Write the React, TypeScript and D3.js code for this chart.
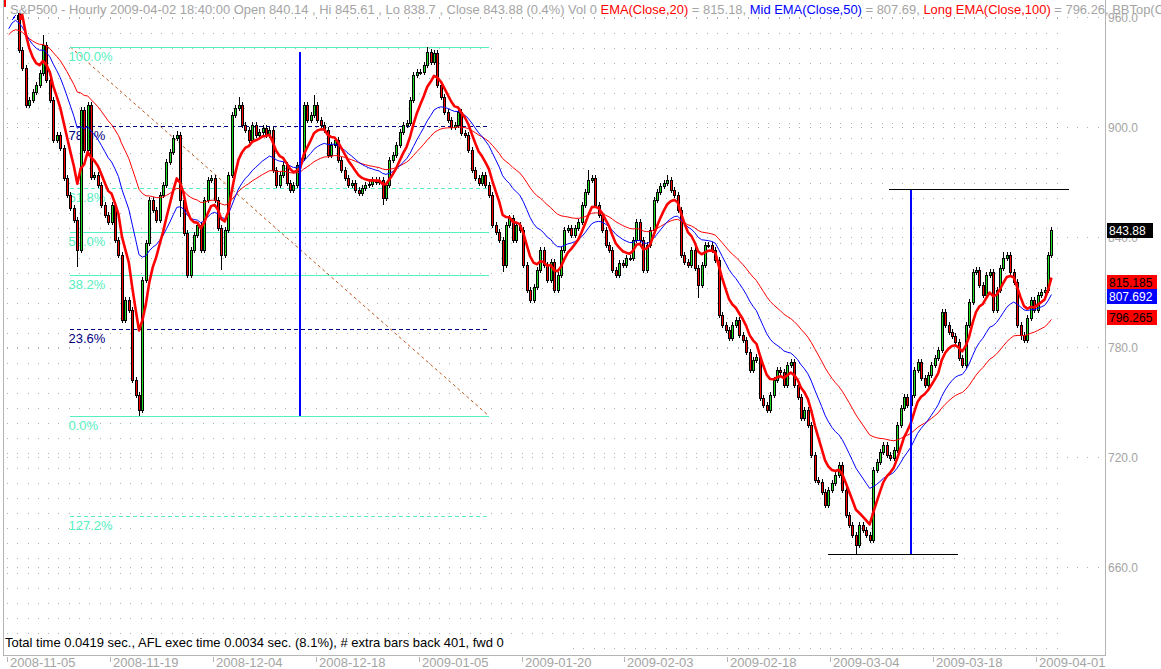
import React from "react";
import * as d3 from "d3";

// ---------- data ----------
const tickDates = [
  "2008-11-05", "2008-11-19", "2008-12-04", "2008-12-18", "2009-01-05", "2009-01-20",
  "2009-02-03", "2009-02-18", "2009-03-04", "2009-03-18", "2009-04-01",
];
const priceTicks = [660, 720, 780, 840, 900, 960];

const firstOpen = 1005;
const closes = [
  1000, 990, 972, 942.0, 932.2, 912.0, 914.7, 919.1, 922.9, 929.5,
  944.7, 925.6, 914.7, 892.9, 895.6, 888.5, 872.2, 862.9, 855.8, 849.3,
  832.9, 909.3, 887.5, 912.0, 872.7, 873.8, 868.4, 857.5, 852.0, 848.2,
  857.5, 838.4, 830.2, 794.7, 805.6, 800.2, 762.0, 753.8, 745.6, 816.5,
  836.7, 860.2, 854.7, 849.3, 862.9, 868.4, 880.9, 886.4, 894.0, 895.6,
  860.2, 842.2, 819.3, 832.9, 841.1, 846.5, 832.9, 860.2, 871.1, 872.2,
  860.2, 844.9, 830.2, 843.8, 873.8, 906.5, 910.4, 912.0, 901.1, 898.4,
  892.9, 901.1, 895.6, 897.3, 899.5, 895.6, 898.4, 876.5, 868.4, 873.8,
  879.3, 869.5, 865.6, 868.4, 879.3, 883.1, 912.0, 903.8, 906.5, 912.0,
  903.8, 901.1, 898.4, 884.7, 890.2, 892.9, 882.0, 876.5, 872.2, 868.4,
  869.5, 865.6, 864.0, 866.7, 868.4, 868.9, 871.1, 870.0, 871.1, 861.3,
  868.4, 882.0, 884.7, 890.2, 897.3, 901.1, 902.2, 914.7, 928.4, 930.0,
  930.0, 933.8, 940.9, 935.5, 940.4, 922.9, 916.4, 908.2, 903.8, 900.0,
  901.1, 908.2, 896.7, 895.6, 887.5, 876.5, 872.2, 869.5, 873.8, 868.4,
  862.9, 846.5, 842.7, 838.4, 824.7, 846.5, 850.4, 838.4, 846.5, 843.8,
  824.7, 811.1, 805.6, 812.7, 822.0, 832.9, 824.7, 816.5, 826.4, 811.1,
  819.3, 832.9, 843.8, 844.9, 841.1, 844.9, 848.2, 857.5, 864.5, 871.1,
  872.2, 857.5, 852.0, 843.8, 835.6, 832.9, 822.0, 819.3, 825.8, 824.7,
  828.5, 828.5, 838.4, 848.2, 838.4, 822.0, 835.6, 843.8, 860.2, 864.5,
  867.8, 869.5, 871.1, 865.6, 862.9, 854.7, 830.2, 826.4, 824.7, 832.9,
  823.1, 813.8, 824.7, 835.6, 835.6, 832.9, 827.5, 797.5, 792.0, 789.3,
  784.9, 792.0, 794.7, 786.5, 783.8, 777.3, 767.5, 772.9, 774.5, 752.2,
  748.4, 745.6, 753.8, 762.0, 767.5, 766.4, 759.3, 770.2, 771.8, 759.3,
  752.7, 741.3, 745.6, 737.5, 721.1, 707.5, 706.4, 700.9, 693.8, 702.0,
  705.8, 710.2, 715.6, 702.0, 688.4, 682.9, 677.5, 672.0, 682.9, 680.2,
  677.5, 674.7, 712.9, 717.3, 722.7, 726.5, 721.1, 719.5, 723.8, 737.5,
  746.7, 752.7, 748.4, 753.8, 767.5, 771.8, 763.1, 759.3, 764.7, 770.2,
  774.0, 778.4, 799.1, 792.0, 788.2, 786.0, 782.7, 774.0, 770.2, 792.0,
  804.5, 820.9, 822.0, 813.8, 808.4, 819.3, 820.9, 800.2, 811.1, 823.1,
  828.5, 830.2, 820.9, 815.5, 792.0, 786.5, 783.8, 795.8, 805.6, 800.2,
  808.4, 810.0, 811.1, 830.2, 843.88,
];
// notable wick extremes: [bar, price]
const wickHighs: [number, number][] = [
  [10, 950.2], [49, 898.0], [67, 916.4], [89, 917.5], [122, 943.4], [169, 876.5],
  [192, 874.0], [290, 832.0], [304, 845.61],
];
const wickLows: [number, number][] = [
  [20, 823.6], [38, 742.4], [50, 851.0], [62, 822.0], [109, 857.5], [144, 821.0],
  [201, 807.0], [221, 744.0], [247, 667.0], [295, 784.0],
];

const emaPeriods = [20, 50, 100];
const emaSeeds = [965, 949, 948];
const emaLast = ["815.185", "807.692", "796.265"];
const lastCloseLabel = "843.88";

const headerInfo = "S&P500 - Hourly 2009-04-02 18:40:00 Open 840.14 , Hi 845.61 , Lo 838.7 , Close 843.88 (0.4%) Vol 0 ";
const headerSeries = ["EMA(Close,20)", "Mid EMA(Close,50)", "Long EMA(Close,100)"];
const headerValues = [" = 815.18, ", " = 807.69, ", " = 796.26, BBTop(Close,20,2) = 878.53"];
const footerText = "Total time 0.0419 sec., AFL exec time 0.0034 sec. (8.1%), # extra bars back 401, fwd 0";

const fibHigh = 943.6;
const fibLow = 742.4;
const fibStartBar = 18;
const fibEndBar = 140;
const fibRatios = [1, 0.786, 0.618, 0.5, 0.382, 0.236, 0, 1.272];
const fibNames = ["100.0%", "78.6%", "61.8%", "50.0%", "38.2%", "23.6%", "0.0%", "127.2%"];

const marker1Bar = 85;
const marker1Top = 941;
const marker1Bottom = 742.4;
const marker2Bar = 263;
const marker2Top = 866.2;
const marker2Bottom = 667.0;
const marker2TopSpan = [256.5, 309.2];
const marker2BottomSpan = [238.9, 276.8];

const BARS_PER_DAY = 3;
const HOURS_PER_DAY = 7;

// ---------- component ----------
const FONT = "'Liberation Sans', Arial, sans-serif";
const GRAY = "#a4a4a4";
const AQUA = "#55f0c0";
const NAVY = "#000080";

function ema(values: number[], period: number, seed: number) {
  const a = 2 / (period + 1);
  let e = seed;
  return values.map((v) => (e = e + a * (v - e)));
}

export default function App() {
  const xDay = d3.scaleLinear().domain([0, 100]).range([7, 1036]);
  const bx = (i: number) => xDay((i + 0.5) / BARS_PER_DAY);
  const y = d3.scaleLinear().domain([660, 960]).range([567, 17]);

  const hiMap = new Map(wickHighs);
  const loMap = new Map(wickLows);

  const candles = closes.map((c, i) => {
    const o = i === 0 ? firstOpen : closes[i - 1];
    const top = y(Math.max(o, c));
    const bot = y(Math.min(o, c));
    const hy = hiMap.has(i) ? y(hiMap.get(i)!) : top - 3;
    const ly = loMap.has(i) ? y(loMap.get(i)!) : bot + 3;
    return { x: Math.round(bx(i)), o, c, top, bot, hy, ly, up: c >= o };
  });

  const emas = emaPeriods.map((p, k) =>
    ema(closes, (p * BARS_PER_DAY) / HOURS_PER_DAY, emaSeeds[k])
  );
  const line = d3
    .line<number>()
    .x((_, i) => bx(i))
    .y((v) => y(v));

  const fibRange = fibHigh - fibLow;
  const fibX0 = bx(fibStartBar);
  const fibX1 = bx(fibEndBar);
  const fibVal = (r: number) => (r <= 1 ? fibLow + r * fibRange : fibHigh - r * fibRange);

  const days = d3.range(0, 103);
  const dotRows = priceTicks;

  const boxes = [
    { v: +lastCloseLabel, t: lastCloseLabel, bg: "#000000", fg: "#ffffff", w: 46 },
    { v: +emaLast[0], t: emaLast[0], bg: "#ff0000", fg: "#000000", w: 50 },
    { v: +emaLast[1], t: emaLast[1], bg: "#0000ff", fg: "#ffffff", w: 50 },
    { v: +emaLast[2], t: emaLast[2], bg: "#ff0000", fg: "#000000", w: 50 },
  ];
  const seriesColors = ["#ff0000", "#0000ff", "#ff0000"];

  return (
    <div style={{ position: "absolute", left: 0, top: 0 }}>
      <svg width={1161} height={669} style={{ display: "block", background: "#fff" }}>
        <defs>
          <clipPath id="plot">
            <rect x={3} y={13} width={1102} height={642} />
          </clipPath>
          <clipPath id="axisclip">
            <rect x={1105} y={13} width={60} height={642} />
          </clipPath>
        </defs>
        <rect x={0} y={0} width={1161} height={669} fill="#fff" />

        {/* grid dots */}
        <g clipPath="url(#plot)" shapeRendering="crispEdges">
          {days.map((d) => (
            <line key={"v" + d} x1={Math.round(xDay(d)) + 0.5} x2={Math.round(xDay(d)) + 0.5}
              y1={18} y2={655} stroke="#b0b0b0" strokeDasharray="1 14" />
          ))}
          {dotRows.map((p) => (
            <line key={"h" + p} x1={Math.round(xDay(0))} x2={1105} y1={Math.round(y(p)) + 0.5}
              y2={Math.round(y(p)) + 0.5} stroke="#b0b0b0" strokeDasharray="1 9.29" />
          ))}
        </g>

        {/* fib drawing (under price) */}
        <g clipPath="url(#plot)">
          <line x1={fibX0} y1={y(fibHigh)} x2={fibX1} y2={y(fibLow)} stroke="#c0561c"
            strokeWidth={1} strokeDasharray="3 3" />
          {fibRatios.map((r, k) => {
            const v = fibVal(r);
            const navy = r === 0.786 || r === 0.236;
            const dashed = navy || r === 0.618 || r === 1.272;
            const col = navy ? NAVY : AQUA;
            const yy = Math.round(y(v)) + 0.5;
            return (
              <g key={"fib" + k}>
                <line x1={fibX0} x2={fibX1} y1={yy} y2={yy} stroke={col} strokeWidth={1}
                  strokeDasharray={dashed ? "4 3" : undefined} shapeRendering="crispEdges" />
                <text x={fibX0 - 2} y={yy + 13.5} fontFamily={FONT} fontSize={13} fill={col}>
                  {fibNames[k]}
                </text>
              </g>
            );
          })}
        </g>

        {/* candles */}
        <g clipPath="url(#plot)" shapeRendering="crispEdges">
          {candles.map((k, i) => (
            <g key={"c" + i}>
              <line x1={k.x + 0.5} x2={k.x + 0.5} y1={k.hy} y2={k.ly} stroke="#000" strokeWidth={1} />
              <rect x={k.x - 0.5} y={Math.round(k.top) + 0.5} width={2}
                height={Math.max(1, Math.round(k.bot) - Math.round(k.top))}
                fill={k.up ? "#1ee01e" : "#ff0000"} stroke="#000" strokeWidth={1} />
            </g>
          ))}
        </g>

        {/* EMAs */}
        <g clipPath="url(#plot)" fill="none">
          <path d={line(emas[2]) || ""} stroke="#ff0000" strokeWidth={1} />
          <path d={line(emas[1]) || ""} stroke="#0000ff" strokeWidth={1} />
          <path d={line(emas[0]) || ""} stroke="#ff0000" strokeWidth={2.6} strokeLinejoin="round" />
        </g>

        {/* blue markers and black lines */}
        <g clipPath="url(#plot)" shapeRendering="crispEdges">
          <line x1={Math.round(bx(marker1Bar))} x2={Math.round(bx(marker1Bar))} y1={y(marker1Top)}
            y2={y(marker1Bottom)} stroke="#0000ff" strokeWidth={2} />
          <line x1={Math.round(bx(marker2Bar))} x2={Math.round(bx(marker2Bar))} y1={y(marker2Top)}
            y2={y(marker2Bottom)} stroke="#0000ff" strokeWidth={2} />
          <line x1={bx(marker2TopSpan[0])} x2={bx(marker2TopSpan[1])} y1={Math.round(y(marker2Top)) + 0.5}
            y2={Math.round(y(marker2Top)) + 0.5} stroke="#000" strokeWidth={1} />
          <line x1={bx(marker2BottomSpan[0])} x2={bx(marker2BottomSpan[1])}
            y1={Math.round(y(marker2Bottom)) + 0.5} y2={Math.round(y(marker2Bottom)) + 0.5}
            stroke="#000" strokeWidth={1} />
        </g>

        {/* small pane icon under header */}
        <g shapeRendering="crispEdges">
          <line x1={12} y1={20} x2={16} y2={15} stroke="#0000ff" strokeWidth={1} />
          <rect x={17} y={15} width={2} height={5} fill="#000" />
          <rect x={20} y={15} width={2} height={5} fill="#ff0000" />
        </g>

        {/* frame */}
        <g shapeRendering="crispEdges" stroke="#b4b4b4" strokeWidth={1}>
          <line x1={3.5} x2={3.5} y1={0} y2={655} />
          <line x1={1105.5} x2={1105.5} y1={0} y2={655} />
          <line x1={3} x2={1106} y1={655.5} y2={655.5} />
        </g>

        {/* right axis */}
        <g clipPath="url(#axisclip)">
          {priceTicks.map((p) => (
            <text key={"pt" + p} x={1108} y={y(p) + 4.5} fontFamily={FONT} fontSize={12} fill={GRAY}>
              {p.toFixed(1)}
            </text>
          ))}
          {boxes.map((b, k) => (
            <g key={"box" + k}>
              <rect x={1107} y={Math.round(y(b.v)) - 7} width={b.w} height={15} fill={b.bg} />
              <text x={1109} y={Math.round(y(b.v)) + 4.5} fontFamily={FONT} fontSize={12} fill={b.fg}>
                {b.t}
              </text>
            </g>
          ))}
        </g>

        {/* date axis */}
        <g>
          {tickDates.map((d, k) => {
            const xx = Math.round(xDay(k * 10)) + 0.5;
            return (
              <g key={"d" + k}>
                <line x1={xx} x2={xx} y1={657} y2={662} stroke="#b4b4b4" shapeRendering="crispEdges" />
                <text x={xx + 2.5} y={667} fontFamily={FONT} fontSize={13} fill={GRAY}>{d}</text>
              </g>
            );
          })}
        </g>

        {/* footer */}
        <rect x={4} y={634} width={560} height={16} fill="#fff" />
        <text x={5} y={647} fontFamily={FONT} fontSize={13} fill="#000">{footerText}</text>

        {/* header */}
        <rect x={4} y={0} width={2} height={7} fill="#ff0000" />
        <text x={10} y={14} fontFamily={FONT} fontSize={12.95} fill={GRAY} style={{ whiteSpace: "pre" }}>
          <tspan>{headerInfo}</tspan>
          {headerSeries.map((s, k) => (
            <React.Fragment key={"hs" + k}>
              <tspan fill={seriesColors[k]}>{s}</tspan>
              <tspan>{headerValues[k]}</tspan>
            </React.Fragment>
          ))}
        </text>
      </svg>
    </div>
  );
}
